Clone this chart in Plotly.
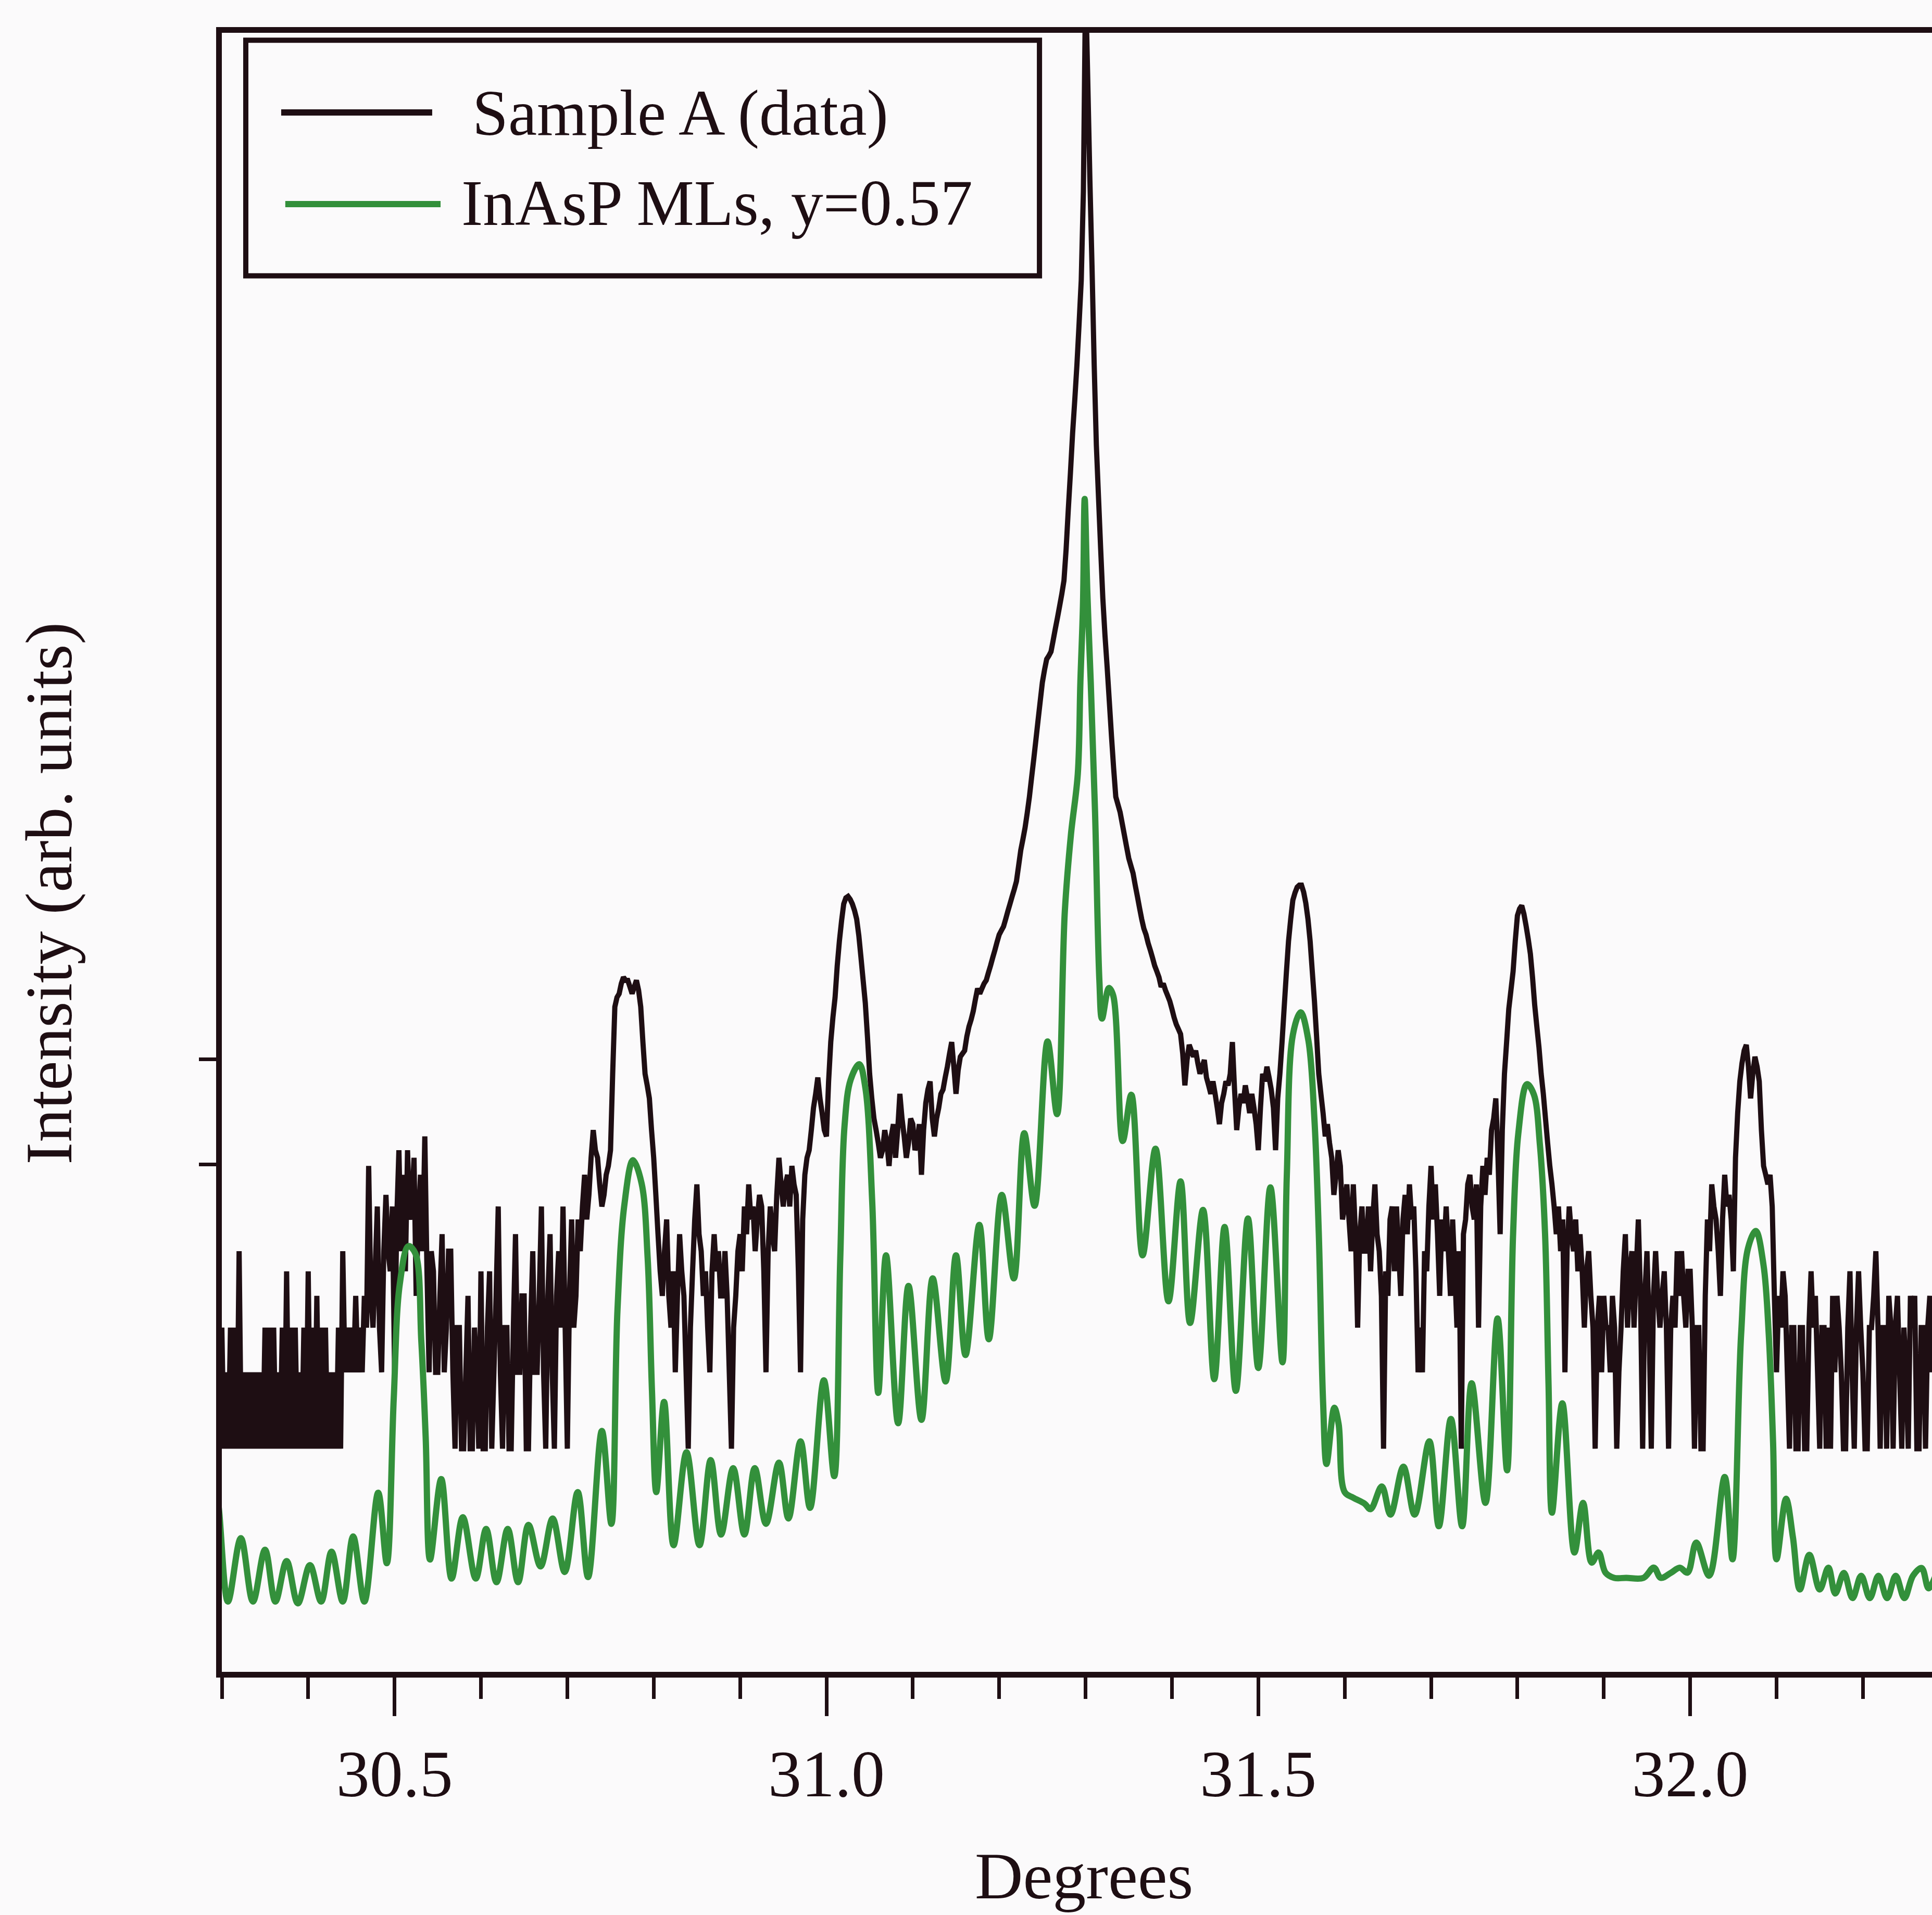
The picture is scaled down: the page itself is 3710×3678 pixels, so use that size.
import plotly.graph_objects as go

# ---------------- data ----------------
# Sample A (measured scan): counts at fixed 0.0025 deg steps starting at 30.300 deg
scan_start_deg = 30.300
scan_step_deg = 0.0025
sample_a_counts = [
    3, 1, 2, 1, 3, 1, 3, 1, 6, 1,                          # 30.300
    2, 1, 2, 1, 2, 1, 2, 1, 2, 1,                          # 30.325
    3, 1, 3, 1, 3, 1, 2, 1, 3, 1,                          # 30.350
    5, 1, 3, 1, 3, 1, 2, 1, 3, 1,                          # 30.375
    5, 1, 3, 1, 4, 1, 3, 1, 3, 1,                          # 30.400
    2, 1, 2, 1, 3, 1, 6, 2, 3, 2,                          # 30.425
    3, 2, 4, 2, 3, 2, 4, 3, 13, 4,                         # 30.450
    3, 5, 9, 3, 2, 6, 10, 6, 5, 9,                         # 30.475
    2, 8, 15, 6, 12, 5, 15, 8, 9, 14,                      # 30.500
    4, 8, 12, 6, 17, 5, 2, 6, 5, 2,                        # 30.525
    2, 4, 7, 2, 3, 6, 6, 2, 1, 3,                          # 30.550
    3, 1, 1, 2, 4, 1, 1, 3, 2, 1,                          # 30.575
    5, 1, 1, 3, 5, 1, 2, 4, 9, 2,                          # 30.600
    1, 3, 3, 1, 1, 3, 7, 2, 2, 4,                          # 30.625
    4, 1, 1, 3, 6, 2, 2, 4, 9, 2,                          # 30.650
    1, 4, 7, 2, 1, 4, 6, 3, 9, 3,                          # 30.675
    1, 4, 8, 3, 4, 8, 6, 9, 12, 8,                         # 30.700
    10, 14, 18, 15, 14, 11, 9, 10, 12, 13,                 # 30.725
    15, 30, 55, 60, 62, 68, 72, 70, 70, 66,                # 30.750
    62, 66, 70, 64, 55, 40, 30, 27, 24, 18,                # 30.775
    14, 10, 7, 5, 4, 6, 8, 4, 3, 5,                        # 30.800
    2, 4, 7, 5, 4, 2, 1, 3, 5, 8,                          # 30.825
    11, 7, 6, 4, 5, 3, 2, 5, 7, 5,                         # 30.850
    6, 4, 4, 6, 4, 2, 1, 3, 4, 6,                          # 30.875
    7, 5, 9, 7, 11, 8, 9, 6, 8, 10,                        # 30.900
    9, 5, 2, 6, 9, 7, 6, 10, 14, 11,                       # 30.925
    9, 11, 12, 9, 13, 11, 10, 5, 2, 8,                     # 30.950
    12, 14, 15, 18, 22, 25, 29, 24, 21, 18,                # 30.975
    17, 28, 40, 50, 60, 80, 100, 120, 140, 148,            # 31.000
    150, 146, 140, 132, 122, 105, 86, 70, 57, 42,          # 31.025
    30, 24, 20, 18, 16, 14, 15, 18, 16, 13,                # 31.050
    17, 19, 14, 18, 25, 20, 17, 14, 16, 20,                # 31.075
    19, 15, 16, 19, 12, 18, 23, 26, 28, 20,                # 31.100
    17, 20, 22, 25, 26, 29, 32, 36, 40, 32,                # 31.125
    25, 31, 35, 36, 37, 42, 46, 49, 53, 59,                # 31.150
    65, 62, 65, 68, 70, 75, 80, 86, 92, 99,                # 31.175
    106, 110, 114, 122, 131, 140, 150, 160, 172, 198,      # 31.200
    228, 252, 280, 320, 370, 440, 520, 620, 740, 880,      # 31.225
    1045, 1170, 1290, 1330, 1380, 1530, 1700, 1880, 2090, 2330,          # 31.250
    2630, 3500, 5000, 7000, 10000, 13500, 18600, 27000, 40000, 90000,    # 31.275
    600000, 250000, 100000, 45000, 18600, 9000, 5600, 3500, 2240, 1600,  # 31.300
    1200, 880, 643, 480, 370, 345, 322, 290, 261, 235,     # 31.325
    212, 198, 185, 166, 150, 135, 122, 112, 106, 98,       # 31.350
    92, 86, 80, 76, 72, 66, 68, 64, 61, 58,                # 31.375
    54, 50, 47, 45, 43, 36, 27, 34, 39, 37,                # 31.400
    35, 37, 33, 30, 32, 34, 29, 27, 25, 28,                # 31.425
    25, 22, 19, 23, 25, 28, 27, 30, 40, 26,                # 31.450
    18, 22, 25, 23, 27, 24, 21, 25, 22, 19,                # 31.475
    15, 22, 30, 28, 32, 29, 26, 22, 15, 24,                # 31.500
    30, 40, 55, 75, 100, 122, 145, 155, 163, 166,          # 31.525
    166, 156, 141, 122, 100, 76, 58, 42, 30, 25,           # 31.550
    21, 17, 19, 16, 14, 10, 12, 15, 13, 8,                 # 31.575
    9, 11, 8, 6, 11, 7, 3, 7, 9, 6,                        # 31.600
    6, 9, 5, 8, 11, 7, 6, 4, 1, 5,                         # 31.625
    4, 8, 9, 5, 9, 6, 4, 8, 10, 7,                         # 31.650
    11, 8, 9, 5, 2, 3, 2, 6, 5, 9,                         # 31.675
    13, 8, 11, 7, 4, 8, 6, 9, 6, 4,                        # 31.700
    8, 5, 3, 6, 1, 7, 8, 11, 12, 9,                        # 31.725
    8, 11, 3, 9, 13, 10, 14, 12, 18, 20,                   # 31.750
    24, 14, 7, 18, 30, 40, 54, 64, 76, 100,                # 31.775
    126, 134, 138, 128, 115, 102, 89, 72, 56, 46,          # 31.800
    38, 30, 25, 20, 16, 13, 11, 9, 7, 9,                   # 31.825
    6, 8, 2, 6, 9, 7, 6, 8, 5, 7,                          # 31.850
    5, 3, 5, 6, 4, 3, 1, 3, 4, 2,                          # 31.875
    4, 3, 3, 2, 4, 3, 1, 2, 3, 5,                          # 31.900
    7, 3, 5, 6, 3, 5, 8, 4, 1, 4,                          # 31.925
    6, 3, 1, 4, 6, 4, 3, 4, 5, 3,                          # 31.950
    1, 3, 4, 3, 6, 4, 6, 4, 3, 5,                          # 31.975
    5, 3, 1, 3, 3, 1, 1, 4, 8, 6,                          # 32.000
    11, 9, 8, 6, 4, 8, 12, 9, 10, 8,                       # 32.025
    5, 14, 21, 28, 33, 37, 39, 32, 24, 30,                 # 32.050
    35, 32, 28, 18, 13, 12, 11, 12, 9, 4,                  # 32.075
    2, 4, 3, 5, 4, 2, 1, 3, 3, 1,                          # 32.100
    1, 3, 3, 1, 1, 3, 5, 3, 4, 2,                          # 32.125
    1, 3, 3, 1, 3, 1, 4, 2, 4, 3,                          # 32.150
    2, 1, 1, 3, 5, 2, 1, 3, 5, 3,                          # 32.175
    2, 1, 1, 3, 3, 4, 6, 3, 1, 3,                          # 32.200
    3, 1, 4, 3, 1, 3, 4, 2, 1, 3,                          # 32.225
    2, 1, 4, 3, 4, 1, 1, 3, 3, 1,                          # 32.250
    3, 4, 2,                                               # 32.275
]
sample_a_deg = [round(scan_start_deg + scan_step_deg * i, 4) for i in range(len(sample_a_counts))]

# Simulation "InAsP MLs, y=0.57": fringe maxima / minima
sim_deg = [
    30.286, 30.295, 30.307, 30.322, 30.336, 30.350, 30.362, 30.375, 30.388, 30.402,
    30.415, 30.427, 30.440, 30.452, 30.465, 30.481, 30.491, 30.499, 30.506, 30.516,
    30.524, 30.531, 30.536, 30.541, 30.554, 30.566, 30.579, 30.594, 30.606, 30.618,
    30.631, 30.643, 30.655, 30.669, 30.683, 30.697, 30.712, 30.724, 30.740, 30.751,
    30.758, 30.766, 30.776, 30.786, 30.793, 30.798, 30.803, 30.812, 30.823, 30.838,
    30.853, 30.866, 30.878, 30.892, 30.905, 30.917, 30.930, 30.945, 30.956, 30.970,
    30.981, 30.997, 31.009, 31.016, 31.021, 31.028, 31.038, 31.045, 31.053, 31.060,
    31.069, 31.083, 31.095, 31.110, 31.123, 31.138, 31.150, 31.161, 31.177, 31.188,
    31.203, 31.217, 31.229, 31.241, 31.256, 31.267, 31.276, 31.283, 31.291, 31.294,
    31.297, 31.299, 31.302, 31.306, 31.311, 31.316, 31.319, 31.327, 31.332, 31.343,
    31.353, 31.366, 31.381, 31.396, 31.410, 31.421, 31.436, 31.449, 31.461, 31.474,
    31.488, 31.500, 31.514, 31.528, 31.533, 31.540, 31.549, 31.558, 31.565, 31.570, 31.575,
    31.579, 31.588, 31.593, 31.600, 31.610, 31.623, 31.630, 31.643, 31.653, 31.668,
    31.681, 31.698, 31.709, 31.723, 31.736, 31.747, 31.763, 31.777, 31.788, 31.795,
    31.801, 31.811, 31.819, 31.826, 31.832, 31.836, 31.840, 31.852, 31.866, 31.876,
    31.886, 31.894, 31.902, 31.912, 31.926, 31.946, 31.958, 31.966, 31.978, 31.988,
    31.997, 32.007, 32.022, 32.040, 32.049, 32.059, 32.067, 32.076, 32.085, 32.091,
    32.096, 32.100, 32.111, 32.119, 32.127, 32.138, 32.150, 32.160, 32.168, 32.178,
    32.188, 32.198, 32.208, 32.218, 32.228, 32.238, 32.248, 32.258, 32.268, 32.276,
    32.284,
]
sim_intensity = [
    0.113, 0.617, 0.250, 0.444, 0.250, 0.400, 0.250, 0.361, 0.246, 0.348,
    0.250, 0.393, 0.250, 0.451, 0.250, 0.671, 0.354, 1.57, 4.45, 6.28,
    5.89, 2.64, 1.11, 0.366, 0.759, 0.308, 0.537, 0.308, 0.483, 0.298,
    0.483, 0.298, 0.501, 0.344, 0.531, 0.327, 0.675, 0.312, 1.175, 0.506,
    3.48, 9.12, 13.7, 11.1, 5.64, 1.69, 0.675, 1.53, 0.417, 0.968,
    0.417, 0.902, 0.459, 0.839, 0.459, 0.839, 0.506, 0.881, 0.531, 1.07,
    0.585, 1.86, 0.780, 5.64, 18.8, 28.4, 32.7, 26.5, 9.38, 1.66,
    5.78, 1.26, 4.38, 1.30, 4.69, 1.84, 5.78, 2.34, 7.62, 2.70,
    10.0, 4.69, 17.5, 9.06, 40.2, 20.8, 131, 261, 455, 1045,
    2090, 5520, 2400, 1045, 321, 70, 49.5, 65.3, 61, 16.3,
    24.8, 5.78, 15.2, 3.81, 11.3, 3.13, 8.73, 1.88, 7.48, 1.69,
    8.07, 2.08, 10.7, 2.19, 11.9, 42.7, 52.4, 40.6, 19.8, 7.11, 1.53,
    0.871, 1.45, 1.25, 0.675, 0.641, 0.608, 0.578, 0.710, 0.550, 0.849,
    0.550, 1.07, 0.495, 1.31, 0.495, 1.81, 0.612, 3.26, 0.822, 7.03,
    17.4, 27.3, 24.9, 15.8, 7.03, 1.81, 0.560, 1.51, 0.390, 0.612,
    0.356, 0.390, 0.325, 0.310, 0.310, 0.310, 0.340, 0.310, 0.325, 0.340,
    0.325, 0.427, 0.316, 0.774, 0.367, 2.82, 6.17, 7.21, 5.27, 2.82,
    1.06, 0.367, 0.635, 0.447, 0.279, 0.382, 0.279, 0.340, 0.269, 0.324,
    0.258, 0.316, 0.258, 0.316, 0.258, 0.316, 0.258, 0.316, 0.339, 0.282,
    0.316,
]
assert len(sim_deg) == len(sim_intensity)

x_range = [30.3, 32.28]
y_range_log = [-0.879, 5.578]
y_tick_vals = [13.2, 34.2]
series_names = ["Sample A (data)", "InAsP MLs, y=0.57"]

# ---------------- style ----------------
INK = "#1e0e13"
GREEN = "#33903b"
BG = "#fbfafb"
FONT = "Liberation Serif, Times New Roman, serif"

fig = go.Figure()
fig.add_trace(go.Scatter(
    x=sample_a_deg, y=sample_a_counts, mode="lines", name=series_names[0],
    line=dict(color=INK, width=10, simplify=False), showlegend=False,
))
fig.add_trace(go.Scatter(
    x=sim_deg, y=sim_intensity, mode="lines", name=series_names[1],
    line=dict(color=GREEN, width=12, shape="spline", smoothing=1.0, simplify=False),
    showlegend=False,
))

fig.update_layout(
    width=3710, height=3678, autosize=False,
    margin=dict(l=426, r=0, t=63, b=467, pad=0),
    paper_bgcolor=BG, plot_bgcolor=BG, showlegend=False,
    font=dict(family=FONT, color=INK, size=128),
)
fig.update_xaxes(
    range=x_range, showline=True, linecolor=INK, linewidth=11, mirror=True,
    ticks="outside", ticklen=74, tickwidth=7, tickcolor=INK,
    tick0=30.5, dtick=0.5, tickformat=".1f",
    minor=dict(ticks="outside", ticklen=41, tickwidth=7, tickcolor=INK,
               tick0=30.3, dtick=0.1, showgrid=False),
    showgrid=False, zeroline=False,
    tickfont=dict(family=FONT, size=128, color=INK), ticklabelstandoff=0,
)
fig.update_yaxes(
    type="log", range=y_range_log, showline=True, linecolor=INK, linewidth=11, mirror=False,
    ticks="outside", ticklen=33, tickwidth=7, tickcolor=INK,
    tickmode="array", tickvals=y_tick_vals, showticklabels=False,
    showgrid=False, zeroline=False,
)

# legend box (drawn manually to match the original placement)
fig.add_shape(type="rect", xref="paper", yref="paper", x0=0.0140, x1=0.4781, y0=0.8517, y1=0.9955,
              line=dict(color=INK, width=10), fillcolor=BG, layer="above")
fig.add_shape(type="line", xref="paper", yref="paper", x0=0.0347, x1=0.1230, y0=0.9514, y1=0.9514,
              line=dict(color=INK, width=12), layer="above")
fig.add_shape(type="line", xref="paper", yref="paper", x0=0.0371, x1=0.1279, y0=0.8955, y1=0.8955,
              line=dict(color=GREEN, width=12), layer="above")

fig.add_annotation(text=series_names[0], xref="paper", yref="paper", x=0.1460, y=0.9510,
                   xanchor="left", yanchor="middle", showarrow=False,
                   font=dict(family=FONT, size=124, color=INK))
fig.add_annotation(text=series_names[1], xref="paper", yref="paper", x=0.1395, y=0.8960,
                   xanchor="left", yanchor="middle", showarrow=False,
                   font=dict(family=FONT, size=124, color=INK))

# axis titles
fig.add_annotation(text="Degrees", xref="paper", yref="paper", x=0.504, y=-0.1245,
                   xanchor="center", yanchor="middle", showarrow=False,
                   font=dict(family=FONT, size=128, color=INK))
fig.add_annotation(text="Intensity (arb. units)", xref="paper", yref="paper", x=-0.1010, y=0.4752,
                   xanchor="center", yanchor="middle", textangle=-90, showarrow=False,
                   font=dict(family=FONT, size=128, color=INK))

fig.write_html("out.html")
